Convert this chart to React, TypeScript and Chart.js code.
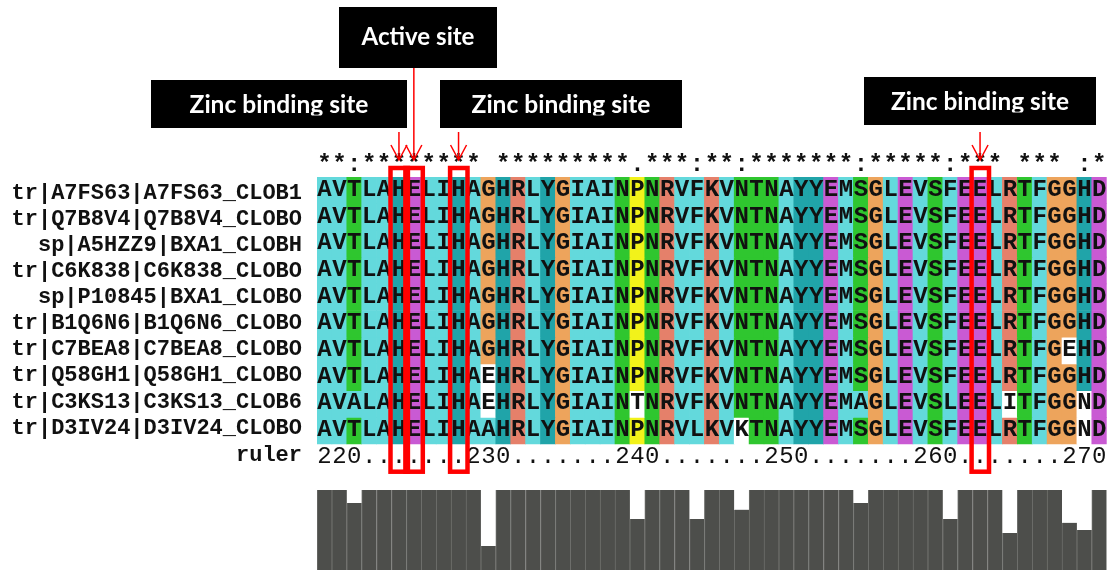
import { useEffect, useRef } from "react";
import { Chart, registerables } from "chart.js";

Chart.register(...registerables);

// ---- alignment data -------------------------------------------------------
const FIRST_RESIDUE = 220;

const SEQ_NAMES = [
  "tr|A7FS63|A7FS63_CLOB1",
  "tr|Q7B8V4|Q7B8V4_CLOBO",
  "sp|A5HZZ9|BXA1_CLOBH",
  "tr|C6K838|C6K838_CLOBO",
  "sp|P10845|BXA1_CLOBO",
  "tr|B1Q6N6|B1Q6N6_CLOBO",
  "tr|C7BEA8|C7BEA8_CLOBO",
  "tr|Q58GH1|Q58GH1_CLOBO",
  "tr|C3KS13|C3KS13_CLOB6",
  "tr|D3IV24|D3IV24_CLOBO",
];

const SEQUENCES = [
  "AVTLAHELIHAGHRLYGIAINPNRVFKVNTNAYYEMSGLEVSFEELRTFGGHD",
  "AVTLAHELIHAGHRLYGIAINPNRVFKVNTNAYYEMSGLEVSFEELRTFGGHD",
  "AVTLAHELIHAGHRLYGIAINPNRVFKVNTNAYYEMSGLEVSFEELRTFGGHD",
  "AVTLAHELIHAGHRLYGIAINPNRVFKVNTNAYYEMSGLEVSFEELRTFGGHD",
  "AVTLAHELIHAGHRLYGIAINPNRVFKVNTNAYYEMSGLEVSFEELRTFGGHD",
  "AVTLAHELIHAGHRLYGIAINPNRVFKVNTNAYYEMSGLEVSFEELRTFGGHD",
  "AVTLAHELIHAGHRLYGIAINPNRVFKVNTNAYYEMSGLEVSFEELRTFGEHD",
  "AVTLAHELIHAEHRLYGIAINPNRVFKVNTNAYYEMSGLEVSFEELRTFGGHD",
  "AVALAHELIHAEHRLYGIAINTNRVFKVNTNAYYEMAGLEVSLEELITFGGND",
  "AVTLAHELIHAAHRLYGIAINPNRVLKVKTNAYYEMSGLEVSFEELRTFGGND",
];

// Clustal consensus line (one symbol per column)
const CONSENSUS = "**:******** *********.***:**:*******:*****:*** *** :*";

const RULER_TICKS = [220, 230, 240, 250, 260, 270];

// Conservation score per column (0..11)
const CONSERVATION = [
  11, 11, 9.2, 11, 11, 11, 11, 11, 11, 11, 11, 3.3,
  11, 11, 11, 11, 11, 11, 11, 11, 11, 7, 11, 11, 11, 7,
  11, 11, 8.3, 11, 11, 11, 11, 11, 11, 11, 9.2,
  11, 11, 11, 11, 11, 7, 11, 11, 11, 5.1,
  11, 11, 11, 6.5, 5.5, 11,
];

// residues left without colour (row, column)
const UNSHADED: [number, number][] = [
  [6, 50], [7, 11], [8, 11], [8, 21], [8, 46], [8, 51], [9, 28], [9, 51],
];

const SITE_RESIDUES = [225, 226, 229, 264];
const SITE_LABELS = ["Zinc binding site", "Active site", "Zinc binding site", "Zinc binding site"];

// ---- styling ---------------------------------------------------------------
const RESIDUE_COLOURS: Record<string, string> = {
  A: "#63d9dc", V: "#63d9dc", L: "#63d9dc", I: "#63d9dc", M: "#63d9dc", F: "#63d9dc", W: "#63d9dc", C: "#63d9dc",
  T: "#2fc62f", S: "#2fc62f", N: "#2fc62f", Q: "#2fc62f",
  G: "#eda45c",
  H: "#20a4a9", Y: "#20a4a9",
  R: "#e5806a", K: "#e5806a",
  E: "#c95ad3", D: "#c95ad3",
  P: "#f2f21a",
};

const W = 1110;
const H = 577;
const AREA = { left: 317, right: 1106.7, top: 177, bottom: 570 };
const ROW_PX = 26.7;
const HIST_PX = 80;
const CONS_MAX = 11;

const MONO = '"Liberation Mono", "DejaVu Sans Mono", monospace';
const LABEL_FONT = 'Lato, "Open Sans", sans-serif';

// callout boxes, in the same order as SITE_LABELS
const CALLOUTS = [
  { x: 151, y: 80, w: 256, h: 48, baseline: 113, textW: 179, shaftTop: 132 },
  { x: 339, y: 7, w: 158, h: 61, baseline: 45, textW: 113, shaftTop: 68 },
  { x: 440, y: 80, w: 242, h: 48, baseline: 113, textW: 179, shaftTop: 132 },
  { x: 864, y: 77, w: 232, h: 48, baseline: 110, textW: 178, shaftTop: 132 },
];

function cellColour(row: number, col: number): string {
  if (UNSHADED.some(([r, c]) => r === row && c === col)) return "#ffffff";
  return RESIDUE_COLOURS[SEQUENCES[row][col]] || "#ffffff";
}

function fitSize(ctx: CanvasRenderingContext2D, text: string, family: string, width: number) {
  ctx.font = `bold 100px ${family}`;
  return (100 * width) / ctx.measureText(text).width;
}

const overlay = {
  id: "alignmentOverlay",
  afterDatasetsDraw(chart: any) {
    const ctx: CanvasRenderingContext2D = chart.ctx;
    const xs = chart.scales.x;
    const ys = chart.scales.y;
    const colW = xs.getPixelForValue(1) - xs.getPixelForValue(0);
    const nCols = SEQUENCES[0].length;

    ctx.save();
    ctx.textBaseline = "alphabetic";

    // residue letters
    ctx.fillStyle = "#111111";
    ctx.textAlign = "center";
    ctx.font = `bold 24px ${MONO}`;
    SEQUENCES.forEach((seq, r) => {
      const yb = ys.getPixelForValue(r + 0.5) + 5.5;
      for (let c = 0; c < seq.length; c++) ctx.fillText(seq[c], xs.getPixelForValue(c), yb);
    });

    // consensus symbols
    const yStar = ys.getPixelForValue(0) - 6;
    for (let c = 0; c < CONSENSUS.length; c++) {
      if (CONSENSUS[c] !== " ") ctx.fillText(CONSENSUS[c], xs.getPixelForValue(c), yStar);
    }

    // ruler
    const ruler: string[] = new Array(nCols).fill(".");
    RULER_TICKS.forEach((t) => {
      const s = String(t);
      const c0 = t - FIRST_RESIDUE;
      for (let k = 0; k < s.length; k++) if (c0 + k < nCols) ruler[c0 + k] = s[k];
    });
    ctx.font = `24px ${MONO}`;
    const yRuler = ys.getPixelForValue(SEQUENCES.length + 0.5) + 6;
    ruler.forEach((ch, c) => ctx.fillText(ch, xs.getPixelForValue(c), yRuler));

    // sequence names
    ctx.textAlign = "right";
    ctx.font = `bold 22px ${MONO}`;
    const nameX = chart.chartArea.left - 15;
    SEQ_NAMES.forEach((name, r) => ctx.fillText(name, nameX, 198.7 + 26.1 * r));
    ctx.fillText("ruler", nameX, 461);

    // boxes around the site columns
    ctx.strokeStyle = "#ff0000";
    ctx.lineWidth = 4.5;
    const boxTop = ys.getPixelForValue(0) - 9;
    const boxBottom = ys.getPixelForValue(SEQUENCES.length + 1) + 1;
    SITE_RESIDUES.forEach((p) => {
      const cx = xs.getPixelForValue(p - FIRST_RESIDUE);
      ctx.strokeRect(cx - colW / 2 - 1, boxTop, colW + 2.5, boxBottom - boxTop);
    });

    // callout arrows
    ctx.lineWidth = 1.5;
    const tipY = ys.getPixelForValue(0) - 17;
    SITE_RESIDUES.forEach((p, i) => {
      const cx = xs.getPixelForValue(p - FIRST_RESIDUE);
      const b = CALLOUTS[i];
      ctx.beginPath();
      ctx.moveTo(cx, b.shaftTop);
      ctx.lineTo(cx, tipY);
      ctx.moveTo(cx - 8, tipY - 15);
      ctx.lineTo(cx, tipY);
      ctx.lineTo(cx + 8, tipY - 15);
      ctx.stroke();
    });

    // callout boxes
    SITE_LABELS.forEach((label, i) => {
      const b = CALLOUTS[i];
      ctx.fillStyle = "#000000";
      ctx.fillRect(b.x, b.y, b.w, b.h);
      const size = fitSize(ctx, label, LABEL_FONT, b.textW);
      ctx.save();
      ctx.beginPath();
      ctx.rect(b.x, b.y, b.w, b.baseline + 2.5 - b.y);
      ctx.clip();
      ctx.font = `bold ${size}px ${LABEL_FONT}`;
      ctx.fillStyle = "#ffffff";
      ctx.textAlign = "center";
      ctx.fillText(label, b.x + b.w / 2, b.baseline);
      ctx.restore();
    });

    ctx.restore();
  },
};

export default function App() {
  const ref = useRef<HTMLCanvasElement | null>(null);

  useEffect(() => {
    if (!ref.current) return;
    const nCols = SEQUENCES[0].length;
    const labels = Array.from({ length: nCols }, (_, i) => String(FIRST_RESIDUE + i));

    const rowSets = SEQUENCES.map((seq, r) => ({
      type: "bar" as const,
      label: SEQ_NAMES[r],
      data: labels.map(() => [r, r + 1]),
      backgroundColor: labels.map((_, c) => cellColour(r, c)),
      borderWidth: 0,
      yAxisID: "y",
      grouped: false,
      barPercentage: 1,
      categoryPercentage: 1,
    }));

    const consSet = {
      type: "bar" as const,
      label: "Conservation",
      data: CONSERVATION,
      backgroundColor: "#4d4e4b",
      borderColor: "#6f706d",
      borderWidth: { left: 1, right: 0, top: 0, bottom: 0 },
      borderSkipped: false,
      yAxisID: "yCons",
      grouped: false,
      barPercentage: 1,
      categoryPercentage: 1,
    };

    const span = AREA.bottom - AREA.top;
    const chart = new Chart(ref.current, {
      type: "bar",
      data: { labels, datasets: [...rowSets, consSet] as any },
      options: {
        responsive: false,
        maintainAspectRatio: false,
        devicePixelRatio: 1,
        animation: false,
        events: [],
        layout: {
          padding: { left: AREA.left, right: W - AREA.right, top: AREA.top, bottom: H - AREA.bottom },
        },
        plugins: { legend: { display: false }, tooltip: { enabled: false } },
        scales: {
          x: { type: "category", display: false, offset: true },
          y: { type: "linear", display: false, reverse: true, min: 0, max: span / ROW_PX },
          yCons: { type: "linear", display: false, min: 0, max: (CONS_MAX * span) / HIST_PX },
        },
      },
      plugins: [overlay],
    });
    return () => chart.destroy();
  }, []);

  return (
    <div style={{ position: "fixed", left: 0, top: 0, width: W, height: H, background: "#ffffff" }}>
      <canvas ref={ref} width={W} height={H} style={{ display: "block", width: W, height: H }} />
    </div>
  );
}
